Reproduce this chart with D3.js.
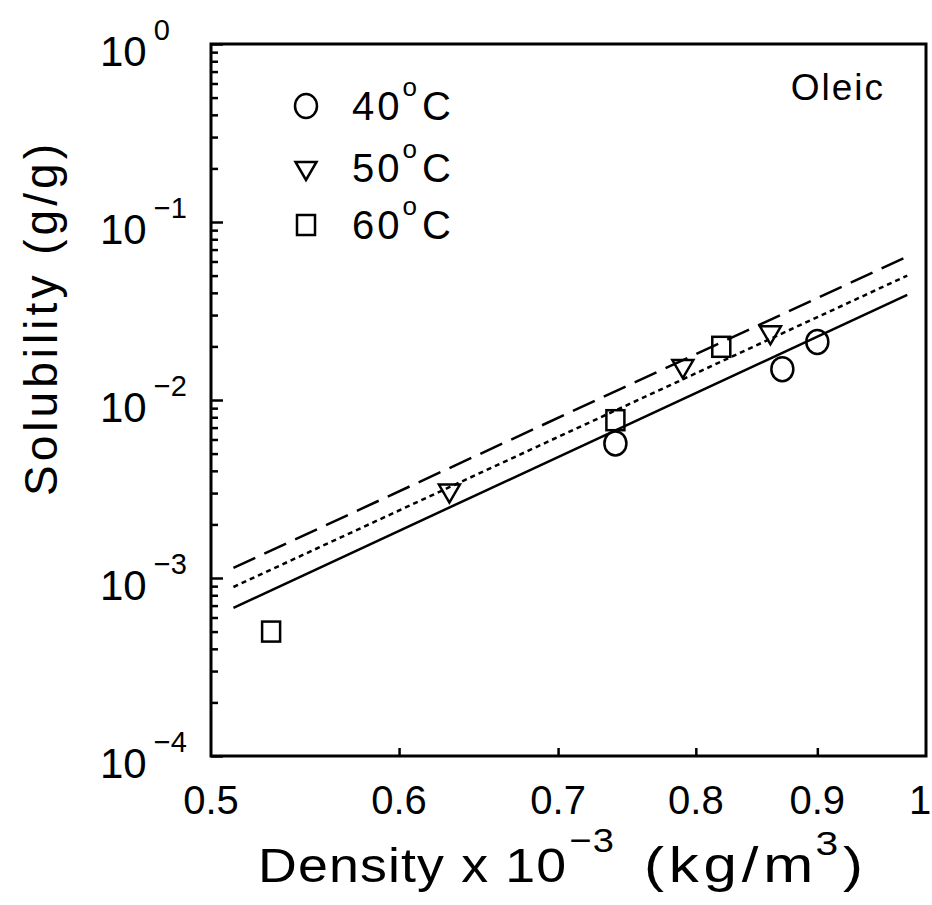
<!DOCTYPE html>

<head>
    <meta charset="utf-8">

    <style>
        body {
            margin: 0;
            background: #fff;
        }

        svg {
            position: absolute;
            top: 0;
            left: 0;
        }

        text {
            font-family: 'Liberation Sans', Arial, sans-serif;
            fill: #000;
        }

        .axis path {
            display: none;
        }

        .axis line {
            stroke: #000;
            stroke-width: 2.5px;
        }

        .axis text {
            display: none;
        }

        .frame {
            fill: none;
            stroke: #000;
            stroke-width: 3px;
        }

        .fit {
            fill: none;
            stroke: #000;
            stroke-width: 2.5px;
        }

        .marker {
            fill: none;
            stroke: #000;
            stroke-width: 2.5px;
        }
    </style>

    <script src="https://d3js.org/d3.v7.min.js"></script>
</head>

<body>
    <script>
        ////////////// Data //////////////

        //axis ticks
        const density_ticks = [0.5, 0.6, 0.7, 0.8, 0.9, 1]
        const density_tick_labels = ["0.5", "0.6", "0.7", "0.8", "0.9", "1"]
        const density_inner_ticks = [0.6, 0.7, 0.8, 0.9]
        const solubility_exponents = [0, -1, -2, -3, -4]
        const solubility_exponent_labels = ["0", "\u22121", "\u22122", "\u22123", "\u22124"]

        //measured points, density x 10^-3 (kg/m3) and solubility (g/g)
        const temperatures = ["40", "50", "60"]
        const density_40 = [0.74, 0.87, 0.90]
        const solubility_40 = [5.7e-3, 1.49e-2, 2.12e-2]
        const density_50 = [0.63, 0.79, 0.86]
        const solubility_50 = [3.1e-3, 1.55e-2, 2.4e-2]
        const density_60 = [0.53, 0.74, 0.82]
        const solubility_60 = [5.0e-4, 7.7e-3, 1.99e-2]

        //correlation lines, ends only (straight on log-log)
        const fit_density = [0.511, 0.982]
        const fit_40 = [6.8e-4, 3.9e-2]
        const fit_50 = [8.9e-4, 5.0e-2]
        const fit_60 = [1.14e-3, 6.4e-2]

        ////////////// Create the SVG //////////////

        let margin = {
            top: 44,
            right: 6,
            bottom: 149,
            left: 211
        }
        let width = 932 - margin.left - margin.right,
            height = 905 - margin.top - margin.bottom

        let root = d3.select("body")
            .append("svg")
            .attr("width", 932)
            .attr("height", 905)

        let svg = root.append("g")
            .attr("transform", "translate(" + margin.left + "," + margin.top + ")")

        ////////////// Create scales //////////////

        const x_scale = d3.scaleLog() //density
            .domain([0.5, 1])
            .range([0, width])

        const y_scale = d3.scaleLog() //solubility
            .domain([1e-4, 1])
            .range([height, 0])

        ////////////// Axes (ticks point inward) //////////////

        const y_major = solubility_exponents.map(e => Math.pow(10, e))
        const y_minor = y_scale.ticks().filter(v => !y_major.some(m => Math.abs(m - v) / m < 1e-6))

        svg.append("g")
            .attr("class", "axis y minor")
            .call(d3.axisRight(y_scale).tickValues(y_minor).tickSize(7))

        svg.append("g")
            .attr("class", "axis y major")
            .call(d3.axisRight(y_scale).tickValues(y_major).tickSize(12))

        svg.append("g")
            .attr("class", "axis x")
            .attr("transform", "translate(0," + height + ")")
            .call(d3.axisTop(x_scale).tickValues(density_inner_ticks).tickSize(8))

        //frame
        svg.append("rect")
            .attr("class", "frame")
            .attr("width", width)
            .attr("height", height)

        ////////////// Tick labels //////////////

        svg.selectAll(".x-label")
            .data(density_ticks)
            .enter().append("text")
            .attr("class", "x-label")
            .attr("x", d => x_scale(d))
            .attr("dx", d => d === 1 ? -6 : 0) //keep the last label inside the page
            .attr("y", height + 58)
            .attr("text-anchor", "middle")
            .style("font-size", "40px")
            .text((d, i) => density_tick_labels[i])

        let y_labels = svg.selectAll(".y-label")
            .data(solubility_exponents)
            .enter().append("text")
            .attr("class", "y-label")
            .attr("x", -111)
            .attr("y", d => y_scale(Math.pow(10, d)) + 22)
            .style("font-size", "42px")

        y_labels.append("tspan")
            .text("10")
        y_labels.append("tspan")
            .attr("dy", -26)
            .attr("dx", 7)
            .style("font-size", "29px")
            .text((d, i) => solubility_exponent_labels[i])

        ////////////// Correlation lines //////////////

        const line = d3.line()
            .x(d => x_scale(d[0]))
            .y(d => y_scale(d[1]))

        const fits = [
            { values: fit_40, dash: null },
            { values: fit_50, dash: "5,4" },
            { values: fit_60, dash: "24,10" }
        ]

        svg.selectAll(".fit")
            .data(fits)
            .enter().append("path")
            .attr("class", "fit")
            .attr("d", d => line(fit_density.map((r, i) => [r, d.values[i]])))
            .style("stroke-dasharray", d => d.dash)

        ////////////// Markers //////////////

        const triangle = "M-10.5,-6L10.5,-6L0,12Z"

        function draw_circle(g) {
            g.append("ellipse").attr("class", "marker").attr("rx", 11).attr("ry", 12)
        }
        function draw_triangle(g) {
            g.append("path").attr("class", "marker").attr("d", triangle)
        }
        function draw_square(g) {
            g.append("rect").attr("class", "marker")
                .attr("x", -9).attr("y", -10).attr("width", 18).attr("height", 20)
        }

        const series = [
            { density: density_40, solubility: solubility_40, draw: draw_circle },
            { density: density_50, solubility: solubility_50, draw: draw_triangle },
            { density: density_60, solubility: solubility_60, draw: draw_square }
        ]

        series.forEach(s => {
            s.density.forEach((r, i) => {
                let g = svg.append("g")
                    .attr("transform", "translate(" + x_scale(r) + "," + y_scale(s.solubility[i]) + ")")
                s.draw(g)
            })
        })

        ////////////// Legend //////////////

        const legend_y = [106, 168, 225]

        series.forEach((s, i) => {
            let g = root.append("g")
                .attr("transform", "translate(306," + legend_y[i] + ")")
            s.draw(g)

            let t = root.append("text")
                .attr("x", 352)
                .attr("y", legend_y[i] + 14)
                .style("font-size", "40px")
                .style("letter-spacing", "3px")
            t.append("tspan").text(temperatures[i])
            t.append("tspan")
                .attr("dy", -24)
                .attr("dx", 0)
                .style("font-size", "26px")
                .text("o")
            t.append("tspan")
                .attr("dy", 24)
                .attr("dx", 2)
                .text("C")
        })

        //sample name
        root.append("text")
            .attr("x", 885)
            .attr("y", 100)
            .attr("text-anchor", "end")
            .style("font-size", "37px")
            .style("letter-spacing", "2px")
            .text("Oleic")

        ////////////// Axis titles //////////////

        root.append("text")
            .attr("transform", "translate(57,320) rotate(-90)")
            .attr("text-anchor", "middle")
            .attr("textLength", 352)
            .attr("lengthAdjust", "spacing")
            .style("font-size", "46px")
            .text("Solubility (g/g)")

        //the original lettering is wide, so both halves of the title are stretched
        let x_title = root.append("text")
            .attr("transform", "translate(258,882) scale(1.12,1)")
            .style("font-size", "48px")
            .style("letter-spacing", "1px")
        x_title.append("tspan").text("Density x 10")
        x_title.append("tspan")
            .attr("dy", -30)
            .attr("dx", 2)
            .style("font-size", "34px")
            .text("\u22123")

        let x_unit = root.append("text")
            .attr("transform", "translate(644,882) scale(1.2,1)")
            .style("font-size", "50px")
            .style("letter-spacing", "4px")
        x_unit.append("tspan").text("(kg/m")
        x_unit.append("tspan")
            .attr("dy", -27)
            .attr("dx", -2)
            .style("font-size", "34px")
            .text("3")
        x_unit.append("tspan")
            .attr("dy", 27)
            .text(")")
    </script>
</body>
